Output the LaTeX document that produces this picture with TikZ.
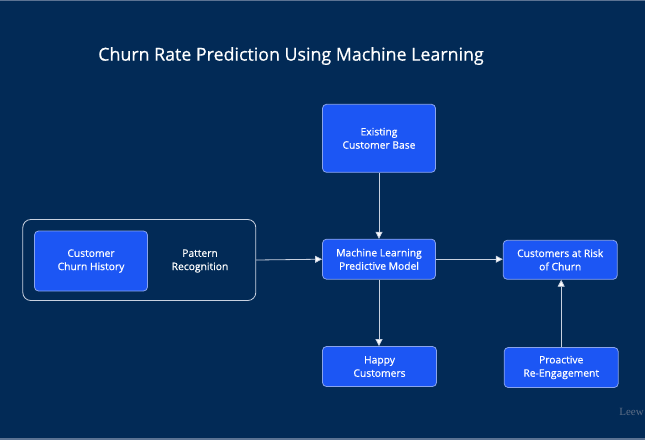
\documentclass[tikz,border=0pt]{standalone}
\usepackage{fontspec}
\usetikzlibrary{arrows.meta}
\setmainfont{Open Sans}
\newfontfamily\semib{Open Sans}[FakeBold=0.6]
\newfontfamily\wmfont{Liberation Serif}
\definecolor{bgnavy}{HTML}{022A56}
\definecolor{boxblue}{HTML}{1C56F4}
\definecolor{boxedge}{HTML}{8AA4EC}
\definecolor{linegray}{HTML}{C9D1E0}
\definecolor{framegray}{HTML}{5C7393}
\definecolor{wmgray}{HTML}{5E6E86}
\begin{document}
\begin{tikzpicture}[x=1pt,y=-1pt,
  bluebox/.style={draw=boxedge, fill=boxblue, rounded corners=4pt, line width=0.8pt,
    text=white, align=center, font=\semib\fontsize{10.3}{13.3}\selectfont, inner sep=0pt},
  link/.style={draw=linegray, line width=0.8pt, -{Triangle[length=7pt,width=7pt,fill=white]}}]
\useasboundingbox (0,0) rectangle (645,440);
\fill[bgnavy] (0,0) rectangle (645,440);
\draw[framegray, line width=1.2pt] (0,0.6) -- (645,0.6);
\draw[framegray, line width=1.2pt] (0,439) -- (645,439);
\node[text=white, font=\semib\fontsize{17.8}{20}\selectfont, anchor=center] (title) at (291,56) {Churn Rate Prediction Using Machine Learning};
\node[draw=linegray, line width=0.8pt, rounded corners=8pt, minimum width=233pt, minimum height=81pt, inner sep=0pt] (group) at (139.3,260) {};
\node[bluebox, minimum width=113pt, minimum height=60pt] (history) at (91,261) {Customer\\Churn History};
\node[text=white, align=center, font=\semib\fontsize{10.3}{13.3}\selectfont, inner sep=0pt] (pattern) at (200,261) {Pattern\\Recognition};
\node[bluebox, minimum width=113pt, minimum height=68pt] (existing) at (379,138.3) {Existing\\Customer Base};
\node[bluebox, minimum width=113pt, minimum height=40pt] (ml) at (379,259.2) {Machine Learning\\Predictive Model};
\node[bluebox, minimum width=114pt, minimum height=39pt] (risk) at (560.2,259.8) {Customers at Risk\\of Churn};
\node[bluebox, minimum width=114pt, minimum height=40pt] (happy) at (379.5,366.5) {Happy\\Customers};
\node[bluebox, minimum width=114pt, minimum height=40pt] (proactive) at (561.2,367.5) {Proactive\\Re-Engagement};
\draw[link] (group.east) -- (ml.west);
\draw[link] (existing.south) -- (ml.north);
\draw[link] (ml.east) -- (risk.west |- ml.east);
\draw[link] (ml.south) -- (happy.north -| ml.south);
\draw[link] (proactive.north) -- (risk.south -| proactive.north);
\node[text=wmgray, font=\wmfont\fontsize{11}{13}\selectfont, anchor=east, inner sep=0pt] (wm) at (644,412) {Leew};
\end{tikzpicture}
\end{document}
